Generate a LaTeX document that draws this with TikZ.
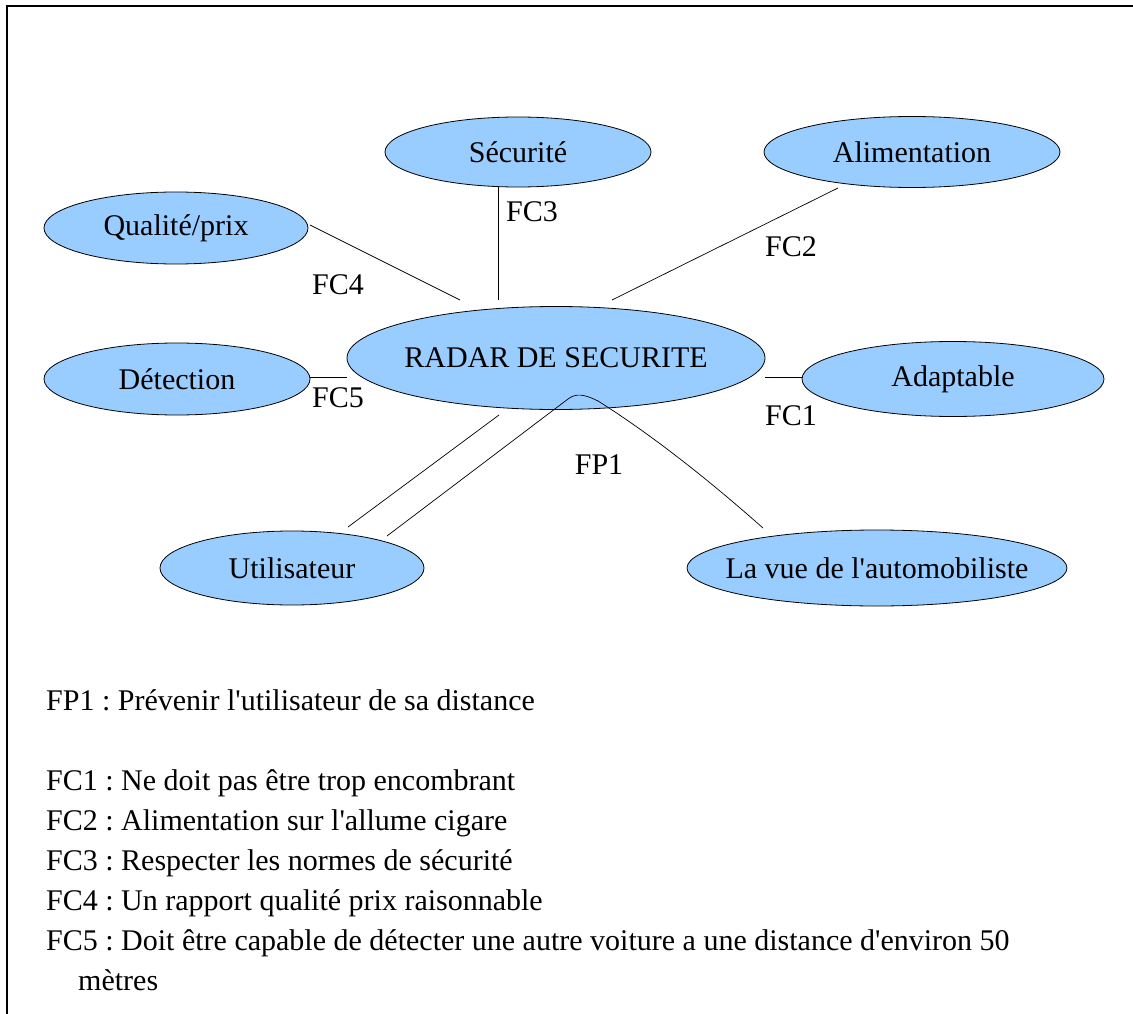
\documentclass[tikz,border=0pt]{standalone}
\usepackage{fontspec}
\setmainfont{Liberation Serif}
\usetikzlibrary{shapes.geometric}
\definecolor{bulle}{HTML}{99CCFF}
\frenchspacing

\begin{document}
\begin{tikzpicture}[x=1pt, y=-1pt, font=\fontsize{30}{36}\selectfont]
    \tikzset{fonction/.style={ellipse, draw=black, line width=0.8pt, fill=bulle, inner ysep=0pt, inner xsep=-25pt},
             lien/.style={draw=black, line width=0.7pt},
             texte/.style={anchor=base west, inner sep=0pt}}
    \useasboundingbox (0,0) rectangle (1133,1014);
    \draw[line width=1.3pt] (7,1014) -- (7,6) -- (1133,6);

    \node[fonction, minimum width=266pt, minimum height=70pt] (secu) at (518,152) {Sécurité};
    \node[fonction, minimum width=296pt, minimum height=71pt] (alim) at (912,152) {Alimentation};
    \node[fonction, minimum width=264pt, minimum height=72pt] (qual) at (176,228) {Qualité/prix};
    \node[fonction, minimum width=418pt, minimum height=103pt] (radar) at (556,358) {RADAR DE SECURITE};
    \node[fonction, minimum width=266pt, minimum height=72pt] (detect) at (177,379) {Détection};
    \node[fonction, minimum width=302pt, minimum height=75pt] (adapt) at (953,379) {Adaptable};
    \node[fonction, minimum width=264pt, minimum height=74pt] (util) at (292,568) {Utilisateur};
    \node[fonction, minimum width=380pt, minimum height=76pt] (vue) at (877,568) {La vue de l\textquotesingle automobiliste};

    % extremites des liaisons
    \coordinate (fc4a) at (310,225);
    \coordinate (fc4b) at (460,300);
    \coordinate (fc3a) at (498,187);
    \coordinate (fc3b) at (498,300);
    \coordinate (fc2a) at (838,188);
    \coordinate (fc2b) at (612,300);
    \coordinate (fc5a) at (310,377);
    \coordinate (fc5b) at (347,377);
    \coordinate (fc1a) at (765,377);
    \coordinate (fc1b) at (802,377);
    \coordinate (ua) at (348,527);
    \coordinate (ub) at (499,415);
    \coordinate (fpa) at (387,536);
    \coordinate (fpb) at (763,528);

    \draw[lien] (fc4a) -- (fc4b);
    \draw[lien] (fc3a) -- (fc3b);
    \draw[lien] (fc2a) -- (fc2b);
    \draw[lien] (fc5a) -- (fc5b);
    \draw[lien] (fc1a) -- (fc1b);
    \draw[lien] (ua) -- (ub);
    \draw[lien] (fpa) -- (568,399) .. controls (576,393) and (584,394) .. (598,401)
        .. controls (660,440) and (720,490) .. (fpb);

    \node (lfc3) at (532,212) {FC3};
    \node (lfc2) at (791,247) {FC2};
    \node (lfc4) at (338,285) {FC4};
    \node (lfc5) at (338,398) {FC5};
    \node (lfc1) at (791,416) {FC1};
    \node (lfp1) at (599,465) {FP1};

    \node[texte] (tfp1) at (46,710) {FP1 : Prévenir l\textquotesingle utilisateur de sa distance};
    \node[texte] (tfc1) at (46,790) {FC1 : Ne doit pas être trop encombrant};
    \node[texte] (tfc2) at (46,830) {FC2 : Alimentation sur l\textquotesingle allume cigare};
    \node[texte] (tfc3) at (46,870) {FC3 : Respecter les normes de sécurité};
    \node[texte] (tfc4) at (46,910) {FC4 : Un rapport qualité prix raisonnable};
    \node[texte] (tfc5) at (46,950) {FC5 : Doit être capable de détecter une autre voiture a une distance d\textquotesingle environ 50};
    \node[texte] (tfc5b) at (78,990) {mètres};
\end{tikzpicture}
\end{document}
